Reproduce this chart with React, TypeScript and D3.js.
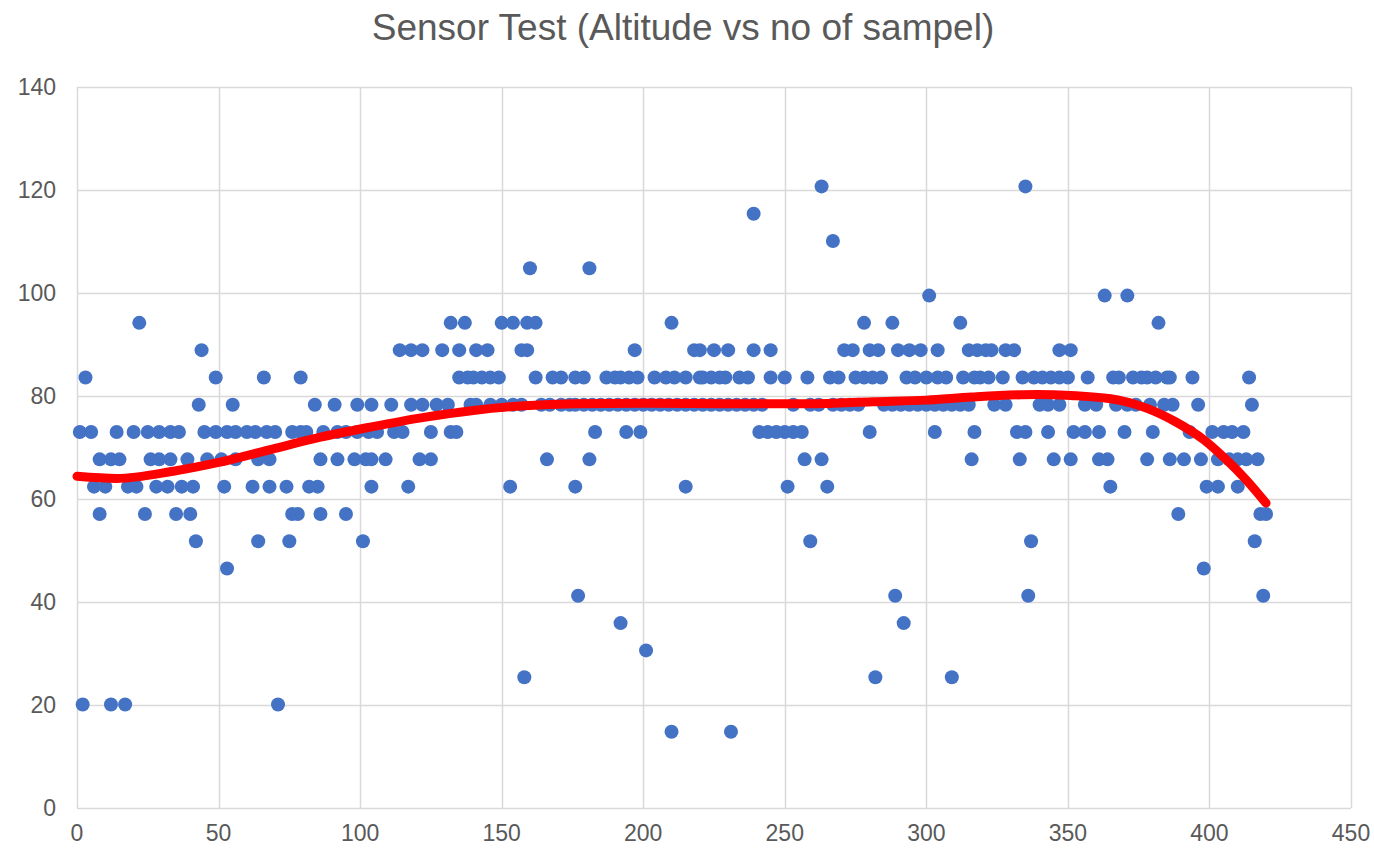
import * as d3 from 'd3'
import { useEffect, useRef } from 'react'

// altitude levels and the sample numbers at which each level was recorded
const level15 = [210, 231]
const level20 = [2, 12, 17, 71]
const level25 = [158, 282, 309]
const level31 = [201]
const level36 = [192, 292]
const level41 = [177, 289, 336, 419]
const level47 = [53, 398]
const level52 = [42, 64, 75, 101, 259, 337, 416]
const level57 = [8, 24, 35, 40, 76, 78, 86, 95, 389, 418, 420]
const level62 = [6, 10, 18, 21, 28, 32, 37, 41, 52, 62, 68, 74, 82, 85, 104, 117, 153, 176, 215, 251, 265, 365, 399, 403, 410]
const level68 = [8, 12, 15, 26, 29, 33, 39, 46, 51, 56, 64, 68, 86, 92, 98, 102, 104, 109, 121, 125, 166, 181, 257, 263, 316, 333, 345, 351, 361, 364, 378, 386, 391, 397, 403, 407, 410, 413, 417]
const level73 = [1, 5, 14, 20, 25, 29, 33, 36, 45, 49, 53, 56, 60, 63, 67, 70, 76, 79, 81, 87, 92, 95, 99, 103, 106, 112, 115, 125, 132, 134, 183, 194, 199, 241, 244, 247, 250, 253, 256, 280, 303, 317, 332, 335, 343, 352, 356, 361, 370, 380, 393, 401, 405, 408, 412]
const level78 = [43, 55, 84, 91, 99, 104, 111, 118, 122, 127, 131, 139, 141, 146, 150, 154, 157, 164, 167, 171, 174, 176, 179, 182, 185, 188, 191, 194, 197, 200, 203, 206, 209, 212, 215, 218, 221, 224, 227, 230, 233, 236, 239, 242, 253, 259, 262, 267, 270, 273, 276, 285, 288, 291, 294, 297, 300, 303, 306, 309, 312, 315, 324, 328, 340, 343, 347, 356, 360, 367, 371, 374, 379, 384, 387, 396, 415]
const level84 = [3, 49, 66, 79, 135, 138, 140, 143, 146, 149, 162, 168, 171, 176, 179, 187, 190, 192, 195, 198, 204, 208, 211, 215, 220, 221, 224, 227, 229, 234, 237, 245, 250, 258, 266, 269, 275, 278, 281, 284, 293, 296, 300, 304, 307, 313, 317, 319, 322, 327, 334, 338, 341, 344, 347, 350, 357, 366, 368, 373, 376, 378, 381, 385, 386, 394, 414]
const level89 = [44, 114, 118, 122, 129, 135, 141, 145, 157, 159, 197, 218, 220, 225, 230, 239, 245, 271, 274, 280, 283, 290, 294, 298, 304, 315, 318, 321, 323, 328, 331, 347, 351]
const level94 = [22, 132, 137, 150, 154, 159, 162, 210, 278, 288, 312, 382]
const level100 = [301, 363, 371]
const level105 = [160, 181]
const level110 = [267]
const level115 = [239]
const level121 = [263, 335]

const levels: [number, number[]][] = [
  [14.8, level15], [20.1, level20], [25.4, level25], [30.6, level31],
  [35.9, level36], [41.2, level41], [46.5, level47], [51.8, level52],
  [57.1, level57], [62.4, level62], [67.7, level68], [73.0, level73],
  [78.3, level78], [83.6, level84], [88.9, level89], [94.2, level94],
  [99.5, level100], [104.8, level105], [110.1, level110], [115.4, level115],
  [120.7, level121],
]

// trendline
const trendX = [0, 14, 34, 50, 69, 86, 104, 122, 140, 158, 176, 200, 230, 260, 281, 300, 316, 339, 351, 368, 378, 388, 398, 406, 413, 420]
const trendY = [64.4, 64.0, 65.4, 67.1, 69.7, 72.0, 74.0, 75.8, 77.2, 78.1, 78.5, 78.6, 78.5, 78.5, 78.9, 79.2, 79.8, 80.3, 80.1, 79.2, 77.6, 75.0, 71.5, 67.6, 63.7, 59.2]

const xTicks = [0, 50, 100, 150, 200, 250, 300, 350, 400, 450]
const yTicks = [0, 20, 40, 60, 80, 100, 120, 140]

const App = () => {
  const svgRef = useRef<SVGSVGElement>(null)

  useEffect(() => {
    const svg = d3.select(svgRef.current)
    svg.selectAll('*').remove()

    const margin = { top: 87, right: 23, bottom: 41, left: 77 }
    const width = 1374
    const height = 849

    const x = d3.scaleLinear().domain([0, 450]).range([margin.left, width - margin.right])
    const y = d3.scaleLinear().domain([0, 140]).range([height - margin.bottom, margin.top])

    const grey = '#595959'
    const font = '"Liberation Sans", Arial, sans-serif'

    // gridlines
    svg
      .append('g')
      .selectAll('line')
      .data(yTicks)
      .enter()
      .append('line')
      .attr('x1', x(0))
      .attr('x2', x(450))
      .attr('y1', (d) => Math.round(y(d)) + 0.5)
      .attr('y2', (d) => Math.round(y(d)) + 0.5)
      .attr('stroke', '#d9d9d9')
      .attr('stroke-width', 1.5)

    svg
      .append('g')
      .selectAll('line')
      .data(xTicks)
      .enter()
      .append('line')
      .attr('x1', (d) => Math.round(x(d)) + 0.5)
      .attr('x2', (d) => Math.round(x(d)) + 0.5)
      .attr('y1', y(0))
      .attr('y2', y(140))
      .attr('stroke', '#d9d9d9')
      .attr('stroke-width', 1.5)

    // tick labels
    svg
      .append('g')
      .selectAll('text')
      .data(yTicks)
      .enter()
      .append('text')
      .attr('x', 56)
      .attr('y', (d) => y(d) + 8)
      .attr('text-anchor', 'end')
      .style('font-family', font)
      .style('font-size', '23px')
      .style('fill', grey)
      .text((d) => d)

    svg
      .append('g')
      .selectAll('text')
      .data(xTicks)
      .enter()
      .append('text')
      .attr('x', (d) => x(d))
      .attr('y', 841)
      .attr('text-anchor', 'middle')
      .style('font-family', font)
      .style('font-size', '23px')
      .style('fill', grey)
      .text((d) => d)

    // points
    const points = levels.flatMap(([alt, samples]) => samples.map((s) => ({ s, alt })))
    svg
      .append('g')
      .selectAll('circle')
      .data(points)
      .enter()
      .append('circle')
      .attr('cx', (d) => x(d.s))
      .attr('cy', (d) => y(d.alt))
      .attr('r', 7)
      .attr('fill', '#4472c4')

    // polynomial trendline
    const trend = trendX.map((t, i) => [t, trendY[i]] as [number, number])
    const line = d3
      .line<[number, number]>()
      .x((d) => x(d[0]))
      .y((d) => y(d[1]))
      .curve(d3.curveMonotoneX)
    svg
      .append('path')
      .attr('d', line(trend))
      .attr('fill', 'none')
      .attr('stroke', '#ff0000')
      .attr('stroke-width', 9)
      .attr('stroke-linecap', 'round')

    // title
    svg
      .append('text')
      .attr('x', 683)
      .attr('y', 40)
      .attr('text-anchor', 'middle')
      .style('font-family', font)
      .style('font-size', '37px')
      .style('fill', grey)
      .text('Sensor Test (Altitude vs no of sampel)')
  }, [])

  return (
    <svg
      ref={svgRef}
      width={1374}
      height={849}
      style={{ position: 'absolute', left: 0, top: 0, background: '#fff' }}
    />
  )
}

export default App
